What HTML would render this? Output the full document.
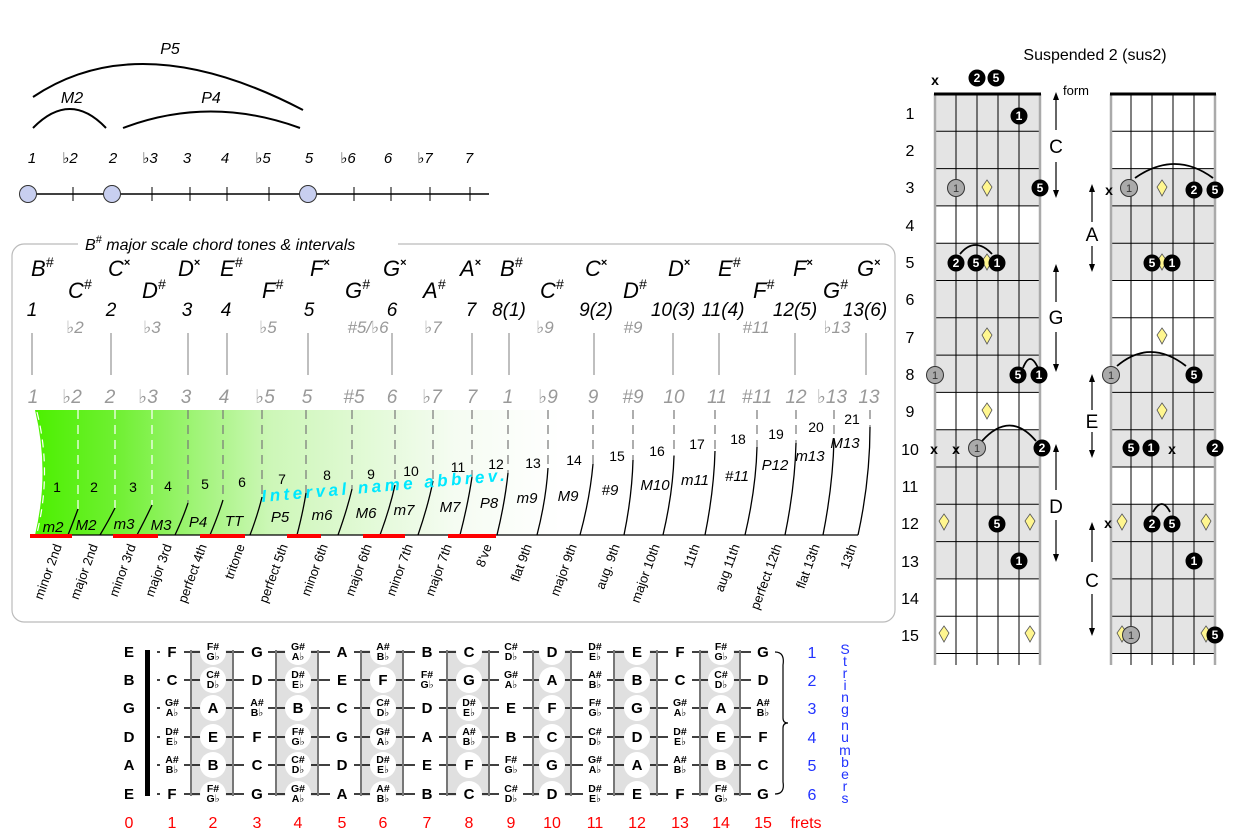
<!DOCTYPE html>
<html><head><meta charset="utf-8"><style>
html,body{margin:0;padding:0;background:#fff}
svg{display:block;font-family:"Liberation Sans","DejaVu Sans",sans-serif}
.i{font-style:italic}
.g{fill:#999}
.bn text{font-weight:bold;font-size:15px;text-anchor:middle}
.bn .d{font-size:10.5px}
.dot{fill:#000}
.dt{fill:#fff;font-size:12px;font-weight:bold;text-anchor:middle}
.gd{fill:#aaa;stroke:#333;stroke-width:1}
.dm{fill:#fff68f;stroke:#555;stroke-width:.8}
</style></head><body>
<svg width="1239" height="833" viewBox="0 0 1239 833" xmlns="http://www.w3.org/2000/svg">
<defs>
<linearGradient id="gr" x1="35" y1="0" x2="560" y2="0" gradientUnits="userSpaceOnUse">
<stop offset="0" stop-color="#4cf000"/><stop offset=".15" stop-color="#6ef030"/><stop offset=".45" stop-color="#cdf7b8"/><stop offset=".8" stop-color="#f5fcf2"/><stop offset="1" stop-color="#fff"/>
</linearGradient>
</defs>

<!-- top-left scale -->
<g fill="none" stroke="#000" stroke-width="2">
<path d="M33,97 Q140,25 303,110"/>
<path d="M33,128 Q70,90 106,128"/>
<path d="M123,128 Q210,95 300,128"/>
</g>
<g class="i" font-size="16" text-anchor="middle">
<text x="170" y="54">P5</text><text x="72" y="103">M2</text><text x="211" y="103">P4</text>
</g>
<g class="i" font-size="15" text-anchor="middle">
<text x="32" y="163">1</text><text x="70" y="163">♭2</text><text x="113" y="163">2</text><text x="150" y="163">♭3</text><text x="187" y="163">3</text><text x="225" y="163">4</text><text x="263" y="163">♭5</text><text x="309" y="163">5</text><text x="348" y="163">♭6</text><text x="388" y="163">6</text><text x="425" y="163">♭7</text><text x="469" y="163">7</text>
</g>
<line x1="20" y1="194" x2="489" y2="194" stroke="#000" stroke-width="1.5"/>
<g stroke="#000" stroke-width="1"><path d="M73,187V201M152,187V201M190,187V201M227,187V201M269,187V201M354,187V201M391,187V201M430,187V201M470,187V201"/></g>
<g fill="#c8cff0" stroke="#333" stroke-width="1"><circle cx="28" cy="194" r="8.5"/><circle cx="112" cy="194" r="8.5"/><circle cx="308" cy="194" r="8.5"/></g>

<!-- box -->
<rect x="12" y="244" width="883" height="378" rx="12" fill="none" stroke="#bbb" stroke-width="1.2"/>
<rect x="78" y="234" width="320" height="20" fill="#fff"/>
<text x="85" y="250" class="i" font-size="16">B<tspan font-size="11" dy="-7">#</tspan><tspan dy="7"> major scale chord tones &amp; intervals</tspan></text>

<g class="i" font-size="22">
<text x="31" y="276">B<tspan font-size="14" dy="-9">#</tspan></text>
<text x="108" y="276">C<tspan font-size="11" dy="-10" font-style="normal" font-weight="bold">×</tspan></text>
<text x="178" y="276">D<tspan font-size="11" dy="-10" font-style="normal" font-weight="bold">×</tspan></text>
<text x="220" y="276">E<tspan font-size="14" dy="-9">#</tspan></text>
<text x="310" y="276">F<tspan font-size="11" dy="-10" font-style="normal" font-weight="bold">×</tspan></text>
<text x="383" y="276">G<tspan font-size="11" dy="-10" font-style="normal" font-weight="bold">×</tspan></text>
<text x="460" y="276">A<tspan font-size="11" dy="-10" font-style="normal" font-weight="bold">×</tspan></text>
<text x="500" y="276">B<tspan font-size="14" dy="-9">#</tspan></text>
<text x="585" y="276">C<tspan font-size="11" dy="-10" font-style="normal" font-weight="bold">×</tspan></text>
<text x="668" y="276">D<tspan font-size="11" dy="-10" font-style="normal" font-weight="bold">×</tspan></text>
<text x="718" y="276">E<tspan font-size="14" dy="-9">#</tspan></text>
<text x="793" y="276">F<tspan font-size="11" dy="-10" font-style="normal" font-weight="bold">×</tspan></text>
<text x="857" y="276">G<tspan font-size="11" dy="-10" font-style="normal" font-weight="bold">×</tspan></text>
<text x="68" y="298">C<tspan font-size="14" dy="-9">#</tspan></text>
<text x="142" y="298">D<tspan font-size="14" dy="-9">#</tspan></text>
<text x="262" y="298">F<tspan font-size="14" dy="-9">#</tspan></text>
<text x="345" y="298">G<tspan font-size="14" dy="-9">#</tspan></text>
<text x="423" y="298">A<tspan font-size="14" dy="-9">#</tspan></text>
<text x="540" y="298">C<tspan font-size="14" dy="-9">#</tspan></text>
<text x="623" y="298">D<tspan font-size="14" dy="-9">#</tspan></text>
<text x="753" y="298">F<tspan font-size="14" dy="-9">#</tspan></text>
<text x="823" y="298">G<tspan font-size="14" dy="-9">#</tspan></text>
</g>
<g class="i" font-size="19" text-anchor="middle">
<text x="32" y="316">1</text><text x="111" y="316">2</text><text x="187" y="316">3</text><text x="226" y="316">4</text><text x="309" y="316">5</text><text x="392" y="316">6</text><text x="471" y="316">7</text><text x="509" y="316">8(1)</text><text x="596" y="316">9(2)</text><text x="673" y="316">10(3)</text><text x="723" y="316">11(4)</text><text x="795" y="316">12(5)</text><text x="865" y="316">13(6)</text>
</g>
<g class="i g" font-size="17" text-anchor="middle">
<text x="75" y="333">♭2</text><text x="152" y="333">♭3</text><text x="268" y="333">♭5</text><text x="368" y="333">#5/♭6</text><text x="433" y="333">♭7</text><text x="545" y="333">♭9</text><text x="633" y="333">#9</text><text x="756" y="333">#11</text><text x="837" y="333">♭13</text>
</g>
<g stroke="#aaa" stroke-width="1.5"><path d="M32,333V375M111,333V375M188,333V375M227,333V375M308,333V375M392,333V375M472,333V375M509,333V375M594,333V375M673,333V375M719,333V375M795,333V375M866,333V375"/></g>
<g class="i g" font-size="19" text-anchor="middle">
<text x="33" y="403">1</text><text x="72" y="403">♭2</text><text x="110" y="403">2</text><text x="148" y="403">♭3</text><text x="186" y="403">3</text><text x="224" y="403">4</text><text x="265" y="403">♭5</text><text x="307" y="403">5</text><text x="354" y="403">#5</text><text x="392" y="403">6</text><text x="432" y="403">♭7</text><text x="472" y="403">7</text><text x="508" y="403">1</text><text x="548" y="403">♭9</text><text x="593" y="403">9</text><text x="633" y="403">#9</text><text x="674" y="403">10</text><text x="717" y="403">11</text><text x="757" y="403">#11</text><text x="796" y="403">12</text><text x="832" y="403">♭13</text><text x="869" y="403">13</text>
</g>

<!-- gradient area -->
<path d="M35,410 Q50,472 35,535 L870,535 L870,410 Z" fill="url(#gr)"/>
<path d="M37,412 Q52,472 37,533" fill="none" stroke="#fff" stroke-width="1.2" stroke-dasharray="8,6"/>
<g fill="none" stroke-width="1.2" stroke-dasharray="9,6">
<g stroke="#fff"><path d="M78,410V509M115,410V508M152,410V505"/></g>
<g stroke="#777"><path d="M188,410V503M223,410V500M262,410V497M306,410V493M352,410V489M395,410V485M433,410V481M472,410V477M508,410V473M548,410V468M593,410V464M633,410V460M674,410V456M715,410V451M757,410V447M796,410V443M834,410V439M870,410V427"/></g>
</g>
<g fill="none" stroke="#000" stroke-width="1.3">
<path d="M68,535 Q74,520 78,509"/><path d="M100,535 Q109,520 115,508"/><path d="M137,535 Q146,518 152,505"/><path d="M175,535 Q183,518 188,503"/><path d="M210,535 Q218,516 223,500"/><path d="M250,535 Q258,514 262,497"/><path d="M297,535 Q303,512 306,493"/><path d="M338,535 Q347,510 352,489"/><path d="M380,535 Q390,508 395,485"/><path d="M418,535 Q428,506 433,481"/><path d="M460,535 Q468,504 472,477"/><path d="M497,535 Q505,502 508,473"/><path d="M537,535 Q546,500 548,468"/><path d="M580,535 Q590,498 593,464"/><path d="M624,535 Q632,496 633,460"/><path d="M663,535 Q673,492 674,456"/><path d="M705,535 Q714,490 715,451"/><path d="M745,535 Q756,488 757,447"/><path d="M785,535 Q795,486 796,443"/><path d="M823,535 Q833,484 834,439"/><path d="M858,535 Q870,480 870,427"/>
<path d="M35,535H858"/>
</g>
<g stroke="#f00" stroke-width="4"><path d="M30,536H72M113,536H158M200,536H245M287,536H321M363,536H405M448,536H496"/></g>
<g font-size="14" text-anchor="middle">
<text x="57" y="492">1</text><text x="94" y="492">2</text><text x="133" y="492">3</text><text x="168" y="491">4</text><text x="205" y="489">5</text><text x="242" y="487">6</text><text x="282" y="484">7</text><text x="327" y="480">8</text><text x="371" y="479">9</text><text x="411" y="476">10</text><text x="458" y="472">11</text><text x="496" y="469">12</text><text x="533" y="468">13</text><text x="574" y="465">14</text><text x="617" y="461">15</text><text x="657" y="456">16</text><text x="697" y="449">17</text><text x="738" y="444">18</text><text x="776" y="439">19</text><text x="816" y="432">20</text><text x="852" y="424">21</text>
</g>
<g class="i" font-size="15" text-anchor="middle">
<text x="53" y="532">m2</text><text x="86" y="530">M2</text><text x="124" y="529">m3</text><text x="161" y="530">M3</text><text x="198" y="527">P4</text><text x="234" y="526">TT</text><text x="280" y="522">P5</text><text x="322" y="520">m6</text><text x="366" y="518">M6</text><text x="404" y="515">m7</text><text x="450" y="512">M7</text><text x="489" y="508">P8</text><text x="527" y="503">m9</text><text x="568" y="501">M9</text><text x="610" y="495">#9</text><text x="655" y="490">M10</text><text x="695" y="485">m11</text><text x="737" y="481">#11</text><text x="775" y="470">P12</text><text x="810" y="461">m13</text><text x="845" y="448">M13</text>
</g>
<text x="262" y="502" class="i" font-size="17" font-weight="bold" fill="#00e8ff" letter-spacing="3.5" transform="rotate(-5 262 502)">Interval name abbrev.</text>
<g font-size="13" text-anchor="end">
<text transform="translate(62,546) rotate(-70)">minor 2nd</text>
<text transform="translate(98,546) rotate(-70)">major 2nd</text>
<text transform="translate(136,546) rotate(-70)">minor 3rd</text>
<text transform="translate(172,546) rotate(-70)">major 3rd</text>
<text transform="translate(207,546) rotate(-70)">perfect 4th</text>
<text transform="translate(245,546) rotate(-70)">tritone</text>
<text transform="translate(288,546) rotate(-70)">perfect 5th</text>
<text transform="translate(328,546) rotate(-70)">minor 6th</text>
<text transform="translate(372,546) rotate(-70)">major 6th</text>
<text transform="translate(413,546) rotate(-70)">minor 7th</text>
<text transform="translate(452,546) rotate(-70)">major 7th</text>
<text transform="translate(492,546) rotate(-70)">8've</text>
<text transform="translate(532,546) rotate(-70)">flat 9th</text>
<text transform="translate(577,546) rotate(-70)">major 9th</text>
<text transform="translate(620,546) rotate(-70)">aug. 9th</text>
<text transform="translate(660,546) rotate(-70)">major 10th</text>
<text transform="translate(700,546) rotate(-70)">11th</text>
<text transform="translate(740,546) rotate(-70)">aug 11th</text>
<text transform="translate(782,546) rotate(-70)">perfect 12th</text>
<text transform="translate(820,546) rotate(-70)">flat 13th</text>
<text transform="translate(857,546) rotate(-70)">13th</text>
</g>

<!-- right chord fretboards -->
<text x="1095" y="60" font-size="16" text-anchor="middle">Suspended 2 (sus2)</text>
<g fill="#e4e4e4">
<rect x="935" y="94" width="105" height="111.9"/><rect x="935" y="243.2" width="105" height="149.2"/><rect x="935" y="429.7" width="105" height="149.2"/>
<rect x="1111" y="168.6" width="104" height="111.9"/><rect x="1111" y="355.1" width="104" height="111.9"/><rect x="1111" y="504.3" width="104" height="149.2"/>
</g>
<g stroke="#000" stroke-width="1">
<path d="M935,131.3H1040M935,168.6H1040M935,205.9H1040M935,243.2H1040M935,280.5H1040M935,317.8H1040M935,355.1H1040M935,392.4H1040M935,429.7H1040M935,467H1040M935,504.3H1040M935,541.6H1040M935,578.9H1040M935,616.2H1040M935,653.5H1040"/>
<path d="M1111,131.3H1215M1111,168.6H1215M1111,205.9H1215M1111,243.2H1215M1111,280.5H1215M1111,317.8H1215M1111,355.1H1215M1111,392.4H1215M1111,429.7H1215M1111,467H1215M1111,504.3H1215M1111,541.6H1215M1111,578.9H1215M1111,616.2H1215M1111,653.5H1215"/>
<path d="M956,94V665M977,94V665M998,94V665M1019,94V665M1131,94V665M1152,94V665M1173,94V665M1194,94V665"/>
</g>
<g stroke="#aaa" stroke-width="2.5"><path d="M935,94V665M1040,94V665M1111,94V665M1215,94V665"/></g>
<g stroke="#000" stroke-width="3"><path d="M934,94H1041M1110,94H1216"/></g>
<g font-size="16" text-anchor="middle">
<text x="910" y="119">1</text><text x="910" y="156">2</text><text x="910" y="193">3</text><text x="910" y="231">4</text><text x="910" y="268">5</text><text x="910" y="305">6</text><text x="910" y="343">7</text><text x="910" y="380">8</text><text x="910" y="417">9</text><text x="910" y="455">10</text><text x="910" y="492">11</text><text x="910" y="529">12</text><text x="910" y="567">13</text><text x="910" y="604">14</text><text x="910" y="641">15</text>
</g>
<!-- arrows -->
<g stroke="#000" stroke-width="1.2" fill="#000">
<path d="M1056,98V130M1056,162V192M1056,270V302M1056,332V366M1056,450V490M1056,520V556M1092,190V222M1092,246V266M1092,380V410M1092,432V452M1092,528V562M1092,594V630"/>
</g>
<g fill="#000">
<path d="M1053,100L1056,92L1059,100ZM1053,190L1056,198L1059,190ZM1053,272L1056,264L1059,272ZM1053,364L1056,372L1059,364ZM1053,452L1056,444L1059,452ZM1053,554L1056,562L1059,554ZM1089,192L1092,184L1095,192ZM1089,264L1092,272L1095,264ZM1089,382L1092,374L1095,382ZM1089,450L1092,458L1095,450ZM1089,530L1092,522L1095,530ZM1089,628L1092,636L1095,628Z"/>
</g>
<g font-size="19" text-anchor="middle">
<text x="1056" y="153">C</text><text x="1056" y="324">G</text><text x="1056" y="513">D</text><text x="1092" y="241">A</text><text x="1092" y="428">E</text><text x="1092" y="587">C</text>
</g>
<text x="1063" y="95" font-size="13">form</text>
<!-- diamonds -->
<g class="dm">
<path d="M987,180l-5,7 5,9 5,-9z"/><path d="M987,254l-5,7 5,9 5,-9z"/><path d="M987,328l-5,7 5,9 5,-9z"/><path d="M987,403l-5,7 5,9 5,-9z"/><path d="M944,514l-5,7 5,9 5,-9z"/><path d="M1030,514l-5,7 5,9 5,-9z"/><path d="M944,626l-5,7 5,9 5,-9z"/><path d="M1030,626l-5,7 5,9 5,-9z"/>
<path d="M1162,180l-5,7 5,9 5,-9z"/><path d="M1162,254l-5,7 5,9 5,-9z"/><path d="M1162,328l-5,7 5,9 5,-9z"/><path d="M1162,403l-5,7 5,9 5,-9z"/><path d="M1122,514l-5,7 5,9 5,-9z"/><path d="M1206,514l-5,7 5,9 5,-9z"/><path d="M1122,626l-5,7 5,9 5,-9z"/><path d="M1206,626l-5,7 5,9 5,-9z"/>
</g>
<!-- arcs -->
<g fill="none" stroke="#000" stroke-width="1.8">
<path d="M960,254 Q975,236 992,254"/><path d="M1023,368 Q1030,350 1038,368"/><path d="M982,441 Q1010,410 1036,441"/>
<path d="M1135,178 Q1175,150 1213,178"/><path d="M1117,366 Q1150,338 1186,366"/><path d="M1153,512 Q1162,496 1170,512"/>
</g>
<!-- x marks -->
<g font-size="14" font-weight="bold" text-anchor="middle">
<text x="935" y="85">x</text><text x="934" y="454">x</text><text x="956" y="454">x</text><text x="1109" y="195">x</text><text x="1172" y="454">x</text><text x="1108" y="528">x</text>
</g>
<!-- grey ones -->
<g class="gd"><circle cx="956" cy="188" r="8.5"/><circle cx="935" cy="375" r="8.5"/><circle cx="977" cy="448" r="8.5"/><circle cx="1129" cy="188" r="8.5"/><circle cx="1111" cy="375" r="8.5"/><circle cx="1131" cy="635" r="8.5"/></g>
<g font-size="11" text-anchor="middle" fill="#333"><text x="956" y="192">1</text><text x="935" y="379">1</text><text x="977" y="452">1</text><text x="1129" y="192">1</text><text x="1111" y="379">1</text><text x="1131" y="639">1</text></g>
<!-- black dots -->
<g class="dot">
<circle cx="977" cy="78" r="8.5"/><circle cx="996" cy="78" r="8.5"/><circle cx="1019" cy="116" r="8.5"/><circle cx="1040" cy="188" r="8.5"/>
<circle cx="956" cy="263" r="8.5"/><circle cx="976" cy="263" r="8.5"/><circle cx="997" cy="263" r="8.5"/>
<circle cx="1018" cy="375" r="8.5"/><circle cx="1039" cy="375" r="8.5"/><circle cx="1042" cy="448" r="8.5"/>
<circle cx="997" cy="524" r="8.5"/><circle cx="1019" cy="561" r="8.5"/>
<circle cx="1194" cy="190" r="8.5"/><circle cx="1215" cy="190" r="8.5"/><circle cx="1152" cy="263" r="8.5"/><circle cx="1172" cy="263" r="8.5"/>
<circle cx="1194" cy="375" r="8.5"/><circle cx="1131" cy="448" r="8.5"/><circle cx="1151" cy="448" r="8.5"/><circle cx="1215" cy="448" r="8.5"/>
<circle cx="1152" cy="524" r="8.5"/><circle cx="1172" cy="524" r="8.5"/><circle cx="1194" cy="561" r="8.5"/><circle cx="1215" cy="635" r="8.5"/>
</g>
<g class="dt">
<text x="977" y="82">2</text><text x="996" y="82">5</text><text x="1019" y="120">1</text><text x="1040" y="192">5</text>
<text x="956" y="267">2</text><text x="976" y="267">5</text><text x="997" y="267">1</text>
<text x="1018" y="379">5</text><text x="1039" y="379">1</text><text x="1042" y="452">2</text>
<text x="997" y="528">5</text><text x="1019" y="565">1</text>
<text x="1194" y="194">2</text><text x="1215" y="194">5</text><text x="1152" y="267">5</text><text x="1172" y="267">1</text>
<text x="1194" y="379">5</text><text x="1131" y="452">5</text><text x="1151" y="452">1</text><text x="1215" y="452">2</text>
<text x="1152" y="528">2</text><text x="1172" y="528">5</text><text x="1194" y="565">1</text><text x="1215" y="639">5</text>
</g>

<!-- bottom note fretboard -->
<g fill="#e0e0e0"><rect x="191" y="650" width="42" height="146"/><rect x="276" y="650" width="42" height="146"/><rect x="361" y="650" width="42" height="146"/><rect x="447" y="650" width="42" height="146"/><rect x="533" y="650" width="38" height="146"/><rect x="614" y="650" width="43" height="146"/><rect x="700" y="650" width="40" height="146"/></g>
<g stroke="#000" stroke-width="1.5"><path d="M157,652H772M157,680H772M157,708H772M157,737H772M157,765H772M157,794H772"/></g>
<g stroke="#777" stroke-width="2"><path d="M191,650V796M233,650V796M276,650V796M318,650V796M361,650V796M403,650V796M447,650V796M489,650V796M533,650V796M571,650V796M614,650V796M657,650V796M700,650V796M740,650V796"/></g>
<rect x="145" y="650" width="5" height="146" fill="#000"/>
<path d="M775,652 Q785,652 783,665 L783,718 Q783,723 788,723 Q783,723 783,728 L783,782 Q785,794 775,794" fill="none" stroke="#000" stroke-width="1.2"/>
<g fill="#fff">
<circle cx="213" cy="652" r="13"/><circle cx="213" cy="680" r="13"/><circle cx="213" cy="708" r="13"/><circle cx="213" cy="737" r="13"/><circle cx="213" cy="765" r="13"/><circle cx="213" cy="794" r="13"/>
<circle cx="298" cy="652" r="13"/><circle cx="298" cy="680" r="13"/><circle cx="298" cy="708" r="13"/><circle cx="298" cy="737" r="13"/><circle cx="298" cy="765" r="13"/><circle cx="298" cy="794" r="13"/>
<circle cx="383" cy="652" r="13"/><circle cx="383" cy="680" r="13"/><circle cx="383" cy="708" r="13"/><circle cx="383" cy="737" r="13"/><circle cx="383" cy="765" r="13"/><circle cx="383" cy="794" r="13"/>
<circle cx="469" cy="652" r="13"/><circle cx="469" cy="680" r="13"/><circle cx="469" cy="708" r="13"/><circle cx="469" cy="737" r="13"/><circle cx="469" cy="765" r="13"/><circle cx="469" cy="794" r="13"/>
<circle cx="552" cy="652" r="13"/><circle cx="552" cy="680" r="13"/><circle cx="552" cy="708" r="13"/><circle cx="552" cy="737" r="13"/><circle cx="552" cy="765" r="13"/><circle cx="552" cy="794" r="13"/>
<circle cx="637" cy="652" r="13"/><circle cx="637" cy="680" r="13"/><circle cx="637" cy="708" r="13"/><circle cx="637" cy="737" r="13"/><circle cx="637" cy="765" r="13"/><circle cx="637" cy="794" r="13"/>
<circle cx="721" cy="652" r="13"/><circle cx="721" cy="680" r="13"/><circle cx="721" cy="708" r="13"/><circle cx="721" cy="737" r="13"/><circle cx="721" cy="765" r="13"/><circle cx="721" cy="794" r="13"/>
<rect x="160" y="640" width="24" height="166"/><rect x="244" y="640" width="24" height="166"/><rect x="330" y="640" width="24" height="166"/><rect x="415" y="640" width="24" height="166"/><rect x="499" y="640" width="24" height="166"/><rect x="583" y="640" width="24" height="166"/><rect x="668" y="640" width="24" height="166"/><rect x="751" y="640" width="24" height="166"/>
</g>
<g class="bn">
<text x="129" y="657">E</text><text x="129" y="685">B</text><text x="129" y="713">G</text><text x="129" y="742">D</text><text x="129" y="770">A</text><text x="129" y="799">E</text>
<!-- row 1 -->
<text x="172" y="657">F</text><text class="d"><tspan x="213" y="650">F#</tspan><tspan x="213" y="660">G♭</tspan></text><text x="257" y="657">G</text><text class="d"><tspan x="298" y="650">G#</tspan><tspan x="298" y="660">A♭</tspan></text><text x="342" y="657">A</text><text class="d"><tspan x="383" y="650">A#</tspan><tspan x="383" y="660">B♭</tspan></text><text x="427" y="657">B</text><text x="469" y="657">C</text><text class="d"><tspan x="511" y="650">C#</tspan><tspan x="511" y="660">D♭</tspan></text><text x="552" y="657">D</text><text class="d"><tspan x="595" y="650">D#</tspan><tspan x="595" y="660">E♭</tspan></text><text x="637" y="657">E</text><text x="680" y="657">F</text><text class="d"><tspan x="721" y="650">F#</tspan><tspan x="721" y="660">G♭</tspan></text><text x="763" y="657">G</text>
<!-- row 2 -->
<text x="172" y="685">C</text><text class="d"><tspan x="213" y="678">C#</tspan><tspan x="213" y="688">D♭</tspan></text><text x="257" y="685">D</text><text class="d"><tspan x="298" y="678">D#</tspan><tspan x="298" y="688">E♭</tspan></text><text x="342" y="685">E</text><text x="383" y="685">F</text><text class="d"><tspan x="427" y="678">F#</tspan><tspan x="427" y="688">G♭</tspan></text><text x="469" y="685">G</text><text class="d"><tspan x="511" y="678">G#</tspan><tspan x="511" y="688">A♭</tspan></text><text x="552" y="685">A</text><text class="d"><tspan x="595" y="678">A#</tspan><tspan x="595" y="688">B♭</tspan></text><text x="637" y="685">B</text><text x="680" y="685">C</text><text class="d"><tspan x="721" y="678">C#</tspan><tspan x="721" y="688">D♭</tspan></text><text x="763" y="685">D</text>
<!-- row 3 -->
<text class="d"><tspan x="172" y="706">G#</tspan><tspan x="172" y="716">A♭</tspan></text><text x="213" y="713">A</text><text class="d"><tspan x="257" y="706">A#</tspan><tspan x="257" y="716">B♭</tspan></text><text x="298" y="713">B</text><text x="342" y="713">C</text><text class="d"><tspan x="383" y="706">C#</tspan><tspan x="383" y="716">D♭</tspan></text><text x="427" y="713">D</text><text class="d"><tspan x="469" y="706">D#</tspan><tspan x="469" y="716">E♭</tspan></text><text x="511" y="713">E</text><text x="552" y="713">F</text><text class="d"><tspan x="595" y="706">F#</tspan><tspan x="595" y="716">G♭</tspan></text><text x="637" y="713">G</text><text class="d"><tspan x="680" y="706">G#</tspan><tspan x="680" y="716">A♭</tspan></text><text x="721" y="713">A</text><text class="d"><tspan x="763" y="706">A#</tspan><tspan x="763" y="716">B♭</tspan></text>
<!-- row 4 -->
<text class="d"><tspan x="172" y="735">D#</tspan><tspan x="172" y="745">E♭</tspan></text><text x="213" y="742">E</text><text x="257" y="742">F</text><text class="d"><tspan x="298" y="735">F#</tspan><tspan x="298" y="745">G♭</tspan></text><text x="342" y="742">G</text><text class="d"><tspan x="383" y="735">G#</tspan><tspan x="383" y="745">A♭</tspan></text><text x="427" y="742">A</text><text class="d"><tspan x="469" y="735">A#</tspan><tspan x="469" y="745">B♭</tspan></text><text x="511" y="742">B</text><text x="552" y="742">C</text><text class="d"><tspan x="595" y="735">C#</tspan><tspan x="595" y="745">D♭</tspan></text><text x="637" y="742">D</text><text class="d"><tspan x="680" y="735">D#</tspan><tspan x="680" y="745">E♭</tspan></text><text x="721" y="742">E</text><text x="763" y="742">F</text>
<!-- row 5 -->
<text class="d"><tspan x="172" y="763">A#</tspan><tspan x="172" y="773">B♭</tspan></text><text x="213" y="770">B</text><text x="257" y="770">C</text><text class="d"><tspan x="298" y="763">C#</tspan><tspan x="298" y="773">D♭</tspan></text><text x="342" y="770">D</text><text class="d"><tspan x="383" y="763">D#</tspan><tspan x="383" y="773">E♭</tspan></text><text x="427" y="770">E</text><text x="469" y="770">F</text><text class="d"><tspan x="511" y="763">F#</tspan><tspan x="511" y="773">G♭</tspan></text><text x="552" y="770">G</text><text class="d"><tspan x="595" y="763">G#</tspan><tspan x="595" y="773">A♭</tspan></text><text x="637" y="770">A</text><text class="d"><tspan x="680" y="763">A#</tspan><tspan x="680" y="773">B♭</tspan></text><text x="721" y="770">B</text><text x="763" y="770">C</text>
<!-- row 6 -->
<text x="172" y="799">F</text><text class="d"><tspan x="213" y="792">F#</tspan><tspan x="213" y="802">G♭</tspan></text><text x="257" y="799">G</text><text class="d"><tspan x="298" y="792">G#</tspan><tspan x="298" y="802">A♭</tspan></text><text x="342" y="799">A</text><text class="d"><tspan x="383" y="792">A#</tspan><tspan x="383" y="802">B♭</tspan></text><text x="427" y="799">B</text><text x="469" y="799">C</text><text class="d"><tspan x="511" y="792">C#</tspan><tspan x="511" y="802">D♭</tspan></text><text x="552" y="799">D</text><text class="d"><tspan x="595" y="792">D#</tspan><tspan x="595" y="802">E♭</tspan></text><text x="637" y="799">E</text><text x="680" y="799">F</text><text class="d"><tspan x="721" y="792">F#</tspan><tspan x="721" y="802">G♭</tspan></text><text x="763" y="799">G</text>
</g>
<g fill="#f00" font-size="16" text-anchor="middle">
<text x="129" y="828">0</text><text x="172" y="828">1</text><text x="213" y="828">2</text><text x="257" y="828">3</text><text x="298" y="828">4</text><text x="342" y="828">5</text><text x="383" y="828">6</text><text x="427" y="828">7</text><text x="469" y="828">8</text><text x="511" y="828">9</text><text x="552" y="828">10</text><text x="595" y="828">11</text><text x="637" y="828">12</text><text x="680" y="828">13</text><text x="721" y="828">14</text><text x="763" y="828">15</text><text x="806" y="828">frets</text>
</g>
<g fill="#2233ff" font-size="16" text-anchor="middle">
<text x="812" y="658">1</text><text x="812" y="686">2</text><text x="812" y="714">3</text><text x="812" y="743">4</text><text x="812" y="771">5</text><text x="812" y="800">6</text>
</g>
<g fill="#2233ff" font-size="14" text-anchor="middle">
<text x="845" y="654">S</text><text x="845" y="666">t</text><text x="845" y="678">r</text><text x="845" y="690">i</text><text x="845" y="702">n</text><text x="845" y="714">g</text><text x="845" y="730">n</text><text x="845" y="742">u</text><text x="845" y="755">m</text><text x="845" y="767">b</text><text x="845" y="779">e</text><text x="845" y="791">r</text><text x="845" y="803">s</text>
</g>
</svg>
</body></html>
